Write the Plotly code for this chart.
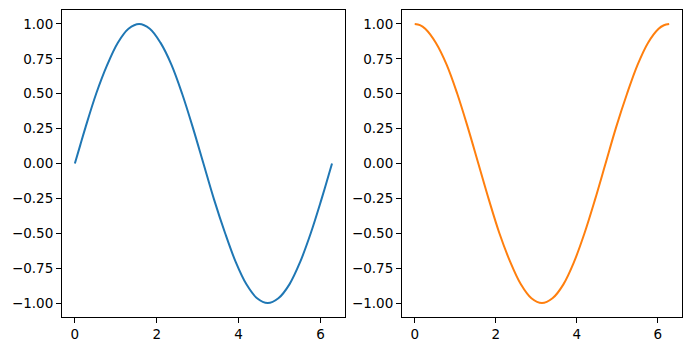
import plotly.graph_objects as go

x_vals = [0, 0.13, 0.26, 0.52, 0.79, 1.05, 1.31, 1.57, 1.83, 2.09, 2.36, 2.62, 2.88, 3.14,
          3.40, 3.67, 3.93, 4.19, 4.45, 4.71, 4.97, 5.24, 5.50, 5.76, 6.02, 6.15, 6.28]
sin_vals = [0, 0.130, 0.259, 0.5, 0.707, 0.866, 0.966, 1.0, 0.966, 0.866, 0.707, 0.5, 0.259, 0,
            -0.259, -0.5, -0.707, -0.866, -0.966, -1.0, -0.966, -0.866, -0.707, -0.5,
            -0.259, -0.131, 0]
cos_vals = [1.0, 0.992, 0.966, 0.866, 0.707, 0.5, 0.259, 0, -0.259, -0.5, -0.707, -0.866,
            -0.966, -1.0, -0.966, -0.866, -0.707, -0.5, -0.259, 0, 0.259, 0.5, 0.707,
            0.866, 0.966, 0.991, 1.0]
x_ticks = [0, 2, 4, 6]
y_ticks = [-1.0, -0.75, -0.5, -0.25, 0.0, 0.25, 0.5, 0.75, 1.0]

W, H = 692, 351
fig = go.Figure()
fig.add_trace(go.Scatter(x=x_vals, y=sin_vals, mode="lines",
                         line=dict(color="#1f77b4", width=2, shape="spline", smoothing=1),
                         xaxis="x", yaxis="y", showlegend=False))
fig.add_trace(go.Scatter(x=x_vals, y=cos_vals, mode="lines",
                         line=dict(color="#ff7f0e", width=2, shape="spline", smoothing=1),
                         xaxis="x2", yaxis="y2", showlegend=False))

axis_common = dict(showline=True, linecolor="black", linewidth=1, mirror=True,
                   ticks="outside", ticklen=5, tickwidth=1, tickcolor="black",
                   showgrid=False, zeroline=False,
                   tickfont=dict(family="DejaVu Sans", size=13.5, color="black"))
ydom = [1 - 317 / H, 1 - 10 / H]
fig.update_layout(
    width=W, height=H, margin=dict(l=0, r=0, t=0, b=0),
    paper_bgcolor="white", plot_bgcolor="white",
    xaxis=dict(domain=[62 / W, 345 / W], range=[-0.314, 6.597], tickvals=x_ticks,
               anchor="y", **axis_common),
    yaxis=dict(domain=ydom, range=[-1.1, 1.1], tickvals=y_ticks, tickformat=".2f",
               anchor="x", **axis_common),
    xaxis2=dict(domain=[402 / W, 682 / W], range=[-0.314, 6.597], tickvals=x_ticks,
                anchor="y2", **axis_common),
    yaxis2=dict(domain=ydom, range=[-1.1, 1.1], tickvals=y_ticks, tickformat=".2f",
                anchor="x2", **axis_common),
)
fig.write_html("out.html")
